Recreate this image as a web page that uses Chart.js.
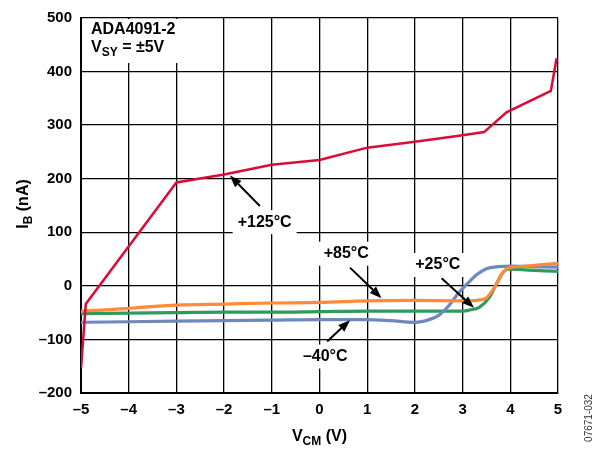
<!DOCTYPE html>
<html>
<head>
<meta charset="utf-8">
<script src="https://cdn.jsdelivr.net/npm/chart.js@4.4.1/dist/chart.umd.min.js"></script>
<style>
  html, body { margin: 0; padding: 0; background: #fff; }
  #wrap { width: 600px; height: 452px; }
</style>
</head>
<body>
<div id="wrap"><canvas id="chart" width="600" height="452"></canvas></div>
<script>
// Input bias current vs common-mode voltage, ADA4091-2, Vsy = ±5V
const xTicks = [-5, -4, -3, -2, -1, 0, 1, 2, 3, 4, 5];
const yTicks = [-200, -100, 0, 100, 200, 300, 400, 500];

const vcm125 = [-5, -4.9, -3, -2, -1, 0, 1, 2, 3, 3.45, 3.92, 4.85, 4.97];
const ib125  = [-154, -34, 193, 208, 226, 235, 258, 269, 281, 287, 324, 364, 425];

const vcm85 = [-5, -4.5, -4, -3, -2, -1, 0, 1, 2, 3, 3.3, 3.5, 3.65, 3.75, 3.85, 3.95, 4.2, 4.6, 5];
const ib85  = [-47, -45, -42, -36, -34, -32, -31, -28, -27, -28, -27, -22, -5, 10, 26, 33, 36, 39, 42];

const vcm25 = [-5, -4, -3, -2, -1, 0, 1, 2, 3, 3.15, 3.35, 3.55, 3.7, 3.83, 3.96, 4.3, 4.7, 5];
const ib25  = [-52, -51, -50, -49, -49, -48, -47, -47, -47, -45, -40, -23, 2, 23, 31, 30, 28, 27];

const vcmM40 = [-5, -4, -3, -2, -1, 0, 1, 1.5, 2, 2.3, 2.5, 2.7, 2.9, 3.1, 3.3, 3.5, 3.75, 4, 4.5, 5];
const ibM40  = [-68, -67, -66, -65, -64, -63, -63, -65, -68, -63, -55, -38, -15, 4, 21, 32, 36, 37, 36, 35];

const FONT = '"Liberation Sans", Arial, sans-serif';

function pts(xs, ys) {
  return xs.map((x, i) => ({ x: x, y: ys[i] }));
}

// callouts: text position, arrow tail and tip, all in data units
const callouts = [
  { text: '+125°C', at: [-1.15, 119], tail: [-1.25, 149], tip: [-1.88, 206] },
  { text: '+85°C',  at: [0.56, 60],   tail: [0.64, 34],   tip: [1.30, -23] },
  { text: '–40°C',  at: [0.12, -132], tail: [0.16, -104], tip: [0.64, -64] },
  { text: '+25°C',  at: [2.48, 39],   tail: [2.56, 14],   tip: [3.24, -41] },
];

function drawParts(ctx, parts, x, y, size) {
  // parts: [text, isSub]
  let w = 0;
  parts.forEach(p => {
    ctx.font = 'bold ' + (p[1] ? size * 0.75 : size) + 'px ' + FONT;
    w += ctx.measureText(p[0]).width;
  });
  let cx = x - w / 2;
  parts.forEach(p => {
    ctx.font = 'bold ' + (p[1] ? size * 0.75 : size) + 'px ' + FONT;
    ctx.textAlign = 'left';
    ctx.textBaseline = 'middle';
    ctx.fillText(p[0], cx, y + (p[1] ? size * 0.3 : 0));
    cx += ctx.measureText(p[0]).width;
  });
}

const annotations = {
  id: 'annotations',
  beforeDatasetsDraw(chart) {
    const { ctx, scales: { x, y }, chartArea } = chart;
    ctx.save();
    ctx.fillStyle = '#fff';
    // title block masks the grid
    ctx.fillRect(chartArea.left + 1, chartArea.top + 1, 118, 44);
    ctx.font = 'bold 16px ' + FONT;
    callouts.forEach(c => {
      const w = ctx.measureText(c.text).width;
      const px = x.getPixelForValue(c.at[0]);
      const py = y.getPixelForValue(c.at[1]);
      ctx.fillRect(px - w / 2 - 5, py - 12, w + 10, 24);
    });
    ctx.restore();
  },
  afterDatasetsDraw(chart) {
    const { ctx, scales: { x, y }, chartArea } = chart;
    ctx.save();
    ctx.fillStyle = '#000';
    ctx.strokeStyle = '#000';

    ctx.font = 'bold 16px ' + FONT;
    ctx.textAlign = 'left';
    ctx.textBaseline = 'middle';
    ctx.fillText('ADA4091-2', chartArea.left + 10, chartArea.top + 12);
    let lx = chartArea.left + 10;
    const ly = chartArea.top + 30;
    ctx.fillText('V', lx, ly);
    lx += ctx.measureText('V').width;
    ctx.font = 'bold 12px ' + FONT;
    ctx.fillText('SY', lx, ly + 5);
    lx += ctx.measureText('SY').width;
    ctx.font = 'bold 16px ' + FONT;
    ctx.fillText(' = ±5V', lx, ly);

    callouts.forEach(c => {
      ctx.font = 'bold 16px ' + FONT;
      ctx.textAlign = 'center';
      ctx.textBaseline = 'middle';
      ctx.fillText(c.text, x.getPixelForValue(c.at[0]), y.getPixelForValue(c.at[1]));

      const x0 = x.getPixelForValue(c.tail[0]), y0 = y.getPixelForValue(c.tail[1]);
      const x1 = x.getPixelForValue(c.tip[0]), y1 = y.getPixelForValue(c.tip[1]);
      const ang = Math.atan2(y1 - y0, x1 - x0);
      const head = 12, half = 4.5;
      const bx = x1 - head * Math.cos(ang), by = y1 - head * Math.sin(ang);
      ctx.lineWidth = 2;
      ctx.beginPath();
      ctx.moveTo(x0, y0);
      ctx.lineTo(bx, by);
      ctx.stroke();
      ctx.beginPath();
      ctx.moveTo(x1, y1);
      ctx.lineTo(bx + half * Math.sin(ang), by - half * Math.cos(ang));
      ctx.lineTo(bx - half * Math.sin(ang), by + half * Math.cos(ang));
      ctx.closePath();
      ctx.fill();
    });

    // axis titles
    drawParts(ctx, [['V', false], ['CM', true], [' (V)', false]], (chartArea.left + chartArea.right) / 2, 437, 16);
    ctx.save();
    ctx.translate(24, 204);
    ctx.rotate(-Math.PI / 2);
    drawParts(ctx, [['I', false], ['B', true], [' (nA)', false]], 0, 0, 16);
    ctx.restore();

    ctx.save();
    ctx.translate(589, 418);
    ctx.rotate(-Math.PI / 2);
    ctx.font = '10px ' + FONT;
    ctx.fillStyle = '#333';
    ctx.textAlign = 'center';
    ctx.textBaseline = 'middle';
    ctx.fillText('07671-032', 0, 0);
    ctx.restore();

    ctx.restore();
  }
};

function series(label, xs, ys, color, width, smooth, order) {
  return {
    label: label,
    data: pts(xs, ys),
    borderColor: color,
    backgroundColor: color,
    borderWidth: width,
    pointRadius: 0,
    fill: false,
    tension: 0,
    cubicInterpolationMode: smooth ? 'monotone' : 'default',
    order: order,
  };
}

const tickFont = { family: FONT, size: 15, weight: 'bold' };

new Chart(document.getElementById('chart'), {
  type: 'line',
  data: {
    datasets: [
      series('+125°C', vcm125, ib125, '#DC0A36', 2.5, false, 1),
      series('+85°C', vcm85, ib85, '#FF8A3C', 3.2, true, 2),
      series('-40°C', vcmM40, ibM40, '#6F88BC', 3.2, true, 3),
      series('+25°C', vcm25, ib25, '#2E9A5C', 3.2, true, 4),
    ],
  },
  options: {
    responsive: false,
    animation: false,
    devicePixelRatio: 1,
    layout: { padding: { left: 0, top: 13, right: 42, bottom: 0 } },
    plugins: {
      legend: { display: false },
      tooltip: { enabled: false },
    },
    scales: {
      x: {
        type: 'linear',
        min: -5,
        max: 5,
        afterBuildTicks: s => { s.ticks = xTicks.map(v => ({ value: v })); },
        afterFit: s => { s.height = 59; },
        ticks: {
          color: '#000',
          font: tickFont,
          padding: 8,
          maxRotation: 0,
          callback: v => String(v).replace('-', '–'),
        },
        grid: { color: '#000', lineWidth: 1.3, drawTicks: false },
        border: { color: '#000', width: 2 },
      },
      y: {
        type: 'linear',
        min: -200,
        max: 500,
        afterBuildTicks: s => { s.ticks = yTicks.map(v => ({ value: v })); },
        afterFit: s => { s.width = 81; },
        ticks: {
          color: '#000',
          font: tickFont,
          padding: 9,
          callback: v => String(v).replace('-', '–'),
        },
        grid: { color: '#000', lineWidth: 1.3, drawTicks: false },
        border: { color: '#000', width: 2 },
      },
    },
  },
  plugins: [annotations],
});
</script>
</body>
</html>
